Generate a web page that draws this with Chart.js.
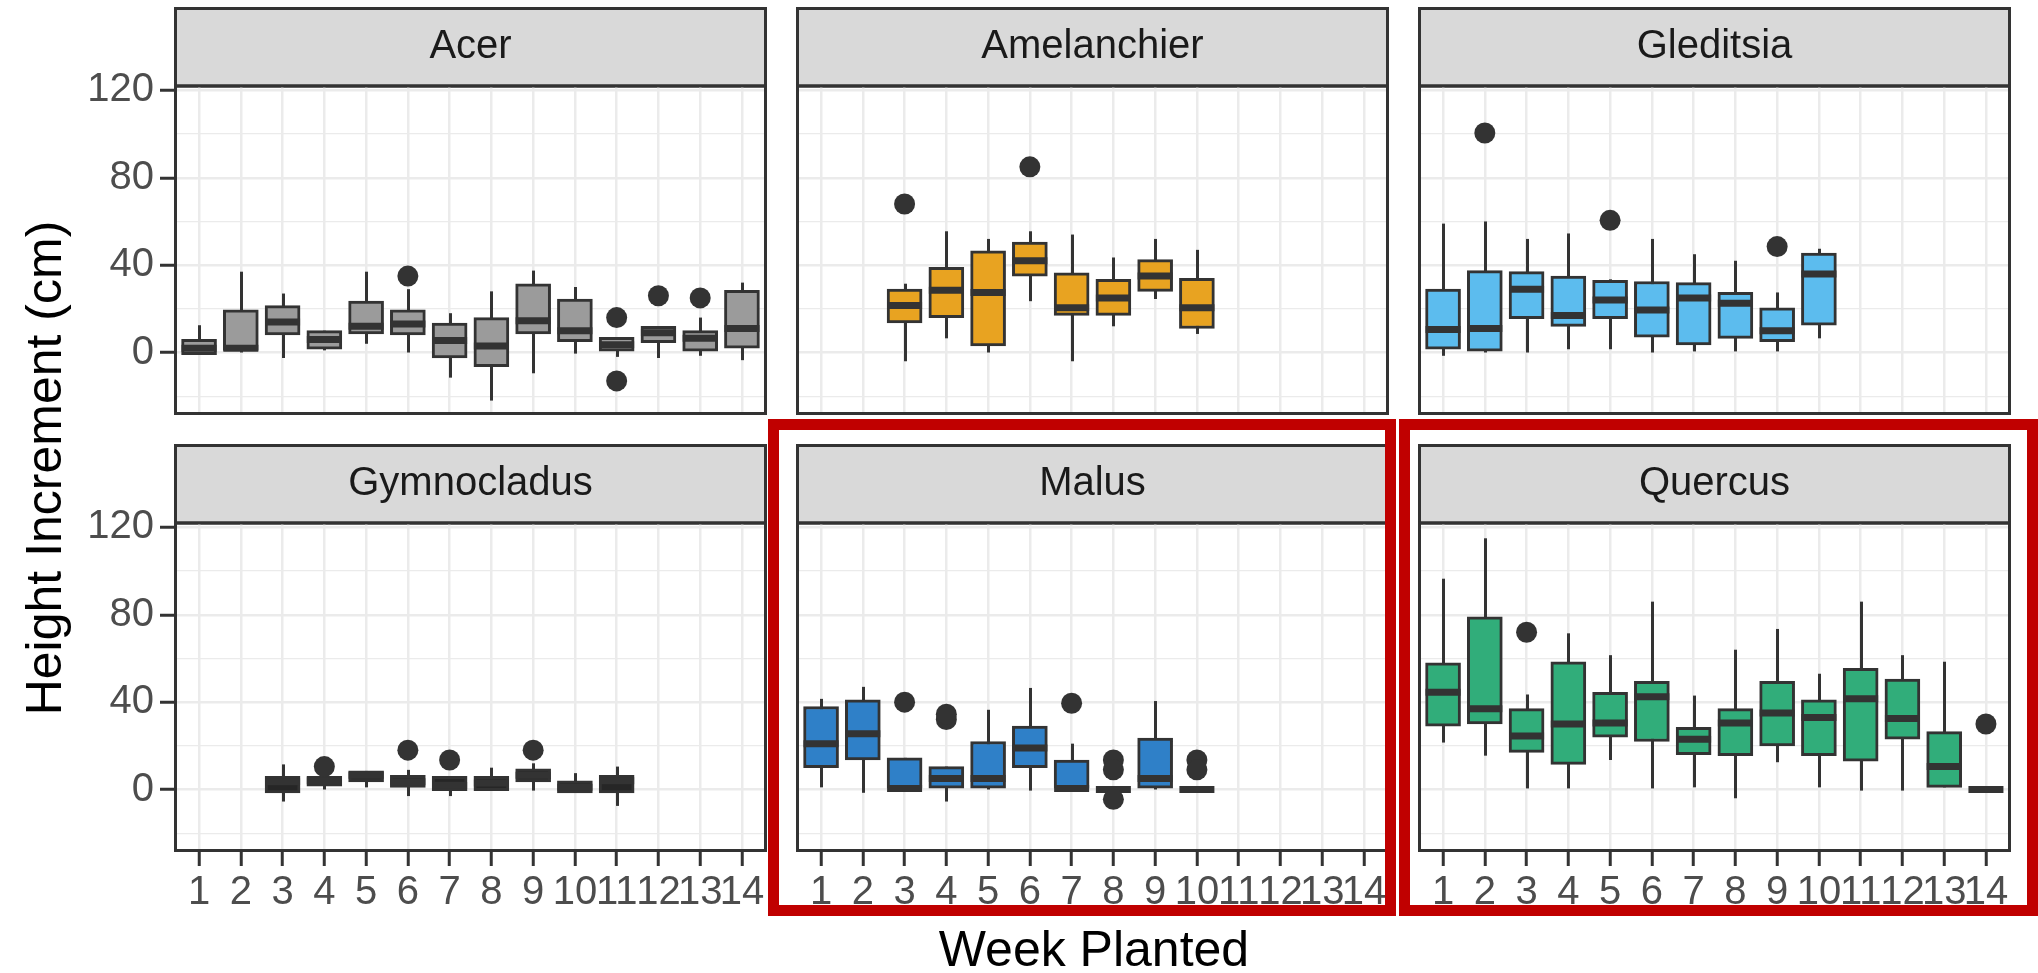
<!DOCTYPE html>
<html>
<head>
<meta charset="utf-8">
<title>Height increment by week planted</title>
<script src="https://cdn.jsdelivr.net/npm/chart.js@4.4.1/dist/chart.umd.min.js"></script>
<style>
  html, body { margin: 0; padding: 0; background: #ffffff; }
  body { position: relative; width: 2038px; height: 973px; overflow: hidden;
         font-family: "Liberation Sans", Arial, Helvetica, sans-serif; }
  canvas.panel { position: absolute; display: block; }
  .frame { position: absolute; box-sizing: border-box; border: 11px solid #C00000; pointer-events: none; }
  #yTitle { position: absolute; left: -306px; top: 438px; width: 700px; height: 60px; line-height: 60px;
            text-align: center; font-size: 50px; color: #000; transform: rotate(-90deg); white-space: nowrap; }
  #xTitle { position: absolute; left: 794px; top: 924px; width: 600px; height: 50px; line-height: 50px;
            text-align: center; font-size: 50px; color: #000; white-space: nowrap; }
</style>
</head>
<body>
<div id="yTitle">Height Increment (cm)</div>
<div id="xTitle">Week Planted</div>

<script>
// ---- data: box statistics (whisker low, Q1, median, Q3, whisker high) per week ----
const weekLabels = ['1','2','3','4','5','6','7','8','9','10','11','12','13','14'];
const speciesNames = ['Acer', 'Amelanchier', 'Gleditsia', 'Gymnocladus', 'Malus', 'Quercus'];

const acerWeeks    = [1, 2, 3, 4, 5, 6, 7, 8, 9, 10, 11, 12, 13, 14];
const acerLow      = [-1, 0, -2.5, 1, 4, 0, -11.5, -22, -9.5, -0.5, -2, -2.5, -1.5, -3.5];
const acerQ1       = [-1, 1, 8, 1.5, 8.5, 8, -2.5, -6.5, 8.5, 5, 0, 4.5, 0, 2];
const acerMedian   = [2, 2, 14, 6, 12, 13, 5.5, 3, 14.5, 10, 3.5, 9, 6.5, 11];
const acerQ3       = [6, 19.5, 21.5, 10, 23.5, 19.5, 13.5, 16, 31.5, 24.5, 7, 12, 10, 28.5];
const acerHigh     = [12.5, 37, 27, 10, 37, 29, 18, 28, 37.5, 30, 7, 12, 16, 32];
const acerOutliers = [[6, 35], [11, 16], [11, -13], [12, 26], [13, 25]];

const amelWeeks    = [3, 4, 5, 6, 7, 8, 9, 10];
const amelLow      = [-4, 6.5, 0, 23.5, -4, 12, 24.5, 8.5];
const amelQ1       = [13.5, 16, 3, 35, 17, 17, 28, 11];
const amelMedian   = [21.5, 28.5, 27.5, 42, 20.5, 25, 35, 20.5];
const amelQ3       = [29, 39, 46.5, 50.5, 36.5, 33.5, 42.5, 34];
const amelHigh     = [31.5, 55.5, 52, 55.5, 54, 43.5, 52, 47];
const amelOutliers = [[3, 68], [6, 85]];

const gledWeeks    = [1, 2, 3, 4, 5, 6, 7, 8, 9, 10];
const gledLow      = [-1.5, 0, 0, 1.5, 1.5, 0, 0.5, 0.5, 0.5, 6.5];
const gledQ1       = [1.5, 0, 15.5, 12, 15.5, 7, 3.5, 6.5, 5, 12.5];
const gledMedian   = [10.5, 11, 29, 17, 24, 19.5, 25, 22.5, 10, 36];
const gledQ3       = [29, 37.5, 37, 35, 33, 32.5, 32, 27.5, 20.5, 45.5];
const gledHigh     = [59, 60, 52, 54.5, 33.5, 52, 45, 42, 27.5, 47.5];
const gledOutliers = [[2, 100.5], [5, 60.5], [9, 48.5]];

const gymnWeeks    = [3, 4, 5, 6, 7, 8, 9, 10, 11];
const gymnLow      = [-5.5, 0, 1, -3, -3, -0.5, -0.5, -1.5, -7.5];
const gymnQ1       = [-1.5, 1.5, 3.5, 1, -0.5, -0.5, 3.5, -1.5, -1.5];
const gymnMedian   = [3.5, 4, 6.5, 3.5, 2, 3, 6.5, 1, 4];
const gymnQ3       = [6, 6, 8.5, 6.5, 6, 6, 9.5, 4, 6.5];
const gymnHigh     = [11.5, 7.5, 8.5, 9, 6, 10, 12, 7.5, 10.5];
const gymnOutliers = [[4, 10.5], [6, 18], [7, 13.5], [9, 18]];

const malusWeeks    = [1, 2, 3, 4, 5, 6, 7, 8, 9, 10];
const malusLow      = [1, -1.5, 0, -5.5, 0, -0.5, 0, 0, 0, 0];
const malusQ1       = [10, 13.5, 0, 0, 0, 10, 0, 0, 0, 0];
const malusMedian   = [21, 25.5, 0.5, 5, 5, 19, 0.5, 0, 5, 0];
const malusQ3       = [38, 41, 14.5, 10.5, 22, 29, 13.5, 0, 23.5, 0];
const malusHigh     = [41.5, 47, 14.5, 10.5, 36.5, 46.5, 21, 0, 40.5, 0];
const malusOutliers = [[3, 40], [4, 32], [4, 34.5], [7, 39.5], [8, 13.5], [8, 9], [8, -4.5], [10, 13.5], [10, 9]];

const quercWeeks    = [1, 2, 3, 4, 5, 6, 7, 8, 9, 10, 11, 12, 13, 14];
const quercLow      = [21.5, 15.5, 0.5, 0.5, 13.5, 0.5, 1, -4, 12.5, 1, -0.5, -0.5, 1, 0];
const quercQ1       = [29, 30, 17, 11.5, 24, 22, 16, 15.5, 20, 15.5, 13, 23, 1, 0];
const quercMedian   = [44.5, 37, 24.5, 30, 30.5, 42.5, 23, 30.5, 35, 33, 41.5, 32.5, 10.5, 0];
const quercQ3       = [58, 79, 37, 58.5, 44.5, 49.5, 28.5, 37, 49.5, 41, 55.5, 50.5, 26.5, 0];
const quercHigh     = [96.5, 115, 43.5, 71.5, 61.5, 86, 43, 64, 73.5, 53, 86, 61.5, 58.5, 0];
const quercOutliers = [[3, 72], [14, 30]];

const yTickValues = [-20, 0, 20, 40, 60, 80, 100, 120];

// ---- styling ----
const fills = ['#9b9b9b', '#E8A321', '#5CBCEE', '#262626', '#2F80C8', '#31AD7A'];
const INK = '#333333';
const GRID = '#EBEBEB';
const FONT = "'Liberation Sans', Arial, Helvetica, sans-serif";

const panels = [
  { weeks: acerWeeks,  low: acerLow,  q1: acerQ1,  med: acerMedian,  q3: acerQ3,  high: acerHigh,  out: acerOutliers },
  { weeks: amelWeeks,  low: amelLow,  q1: amelQ1,  med: amelMedian,  q3: amelQ3,  high: amelHigh,  out: amelOutliers },
  { weeks: gledWeeks,  low: gledLow,  q1: gledQ1,  med: gledMedian,  q3: gledQ3,  high: gledHigh,  out: gledOutliers },
  { weeks: gymnWeeks,  low: gymnLow,  q1: gymnQ1,  med: gymnMedian,  q3: gymnQ3,  high: gymnHigh,  out: gymnOutliers },
  { weeks: malusWeeks, low: malusLow, q1: malusQ1, med: malusMedian, q3: malusQ3, high: malusHigh, out: malusOutliers },
  { weeks: quercWeeks, low: quercLow, q1: quercQ1, med: quercMedian, q3: quercQ3, high: quercHigh, out: quercOutliers }
];

// facet grid geometry (page pixels)
const colLeft = [174, 796, 1418];
const panelW = 593;
const stripTop = [7, 444];
const stripH = 79;
const plotH = 329;
const xAxisH = 64;

// whiskers behind the boxes, medians on top of them, strip and panel frame
const boxPlotParts = {
  id: 'boxPlotParts',
  beforeDraw(chart) {
    const { ctx, chartArea } = chart;
    const t = chart.titleBlock;
    ctx.save();
    ctx.fillStyle = '#D9D9D9';
    ctx.fillRect(chartArea.left, t.top, chartArea.right - chartArea.left, chartArea.top - t.top);
    ctx.strokeStyle = INK;
    ctx.lineWidth = 3;
    ctx.strokeRect(chartArea.left + 1.5, t.top + 1.5, chartArea.right - chartArea.left - 3, chartArea.top - t.top - 1.5);
    ctx.restore();
  },
  beforeDatasetsDraw(chart) {
    const { ctx, scales: { x, y } } = chart;
    chart.data.datasets.forEach(ds => {
      if (!ds.whiskerLow) return;
      ctx.save();
      ctx.strokeStyle = INK;
      ctx.lineWidth = 3;
      ds.data.forEach((d, i) => {
        const px = Math.round(x.getPixelForValue(d.x)) + 0.5;
        ctx.beginPath();
        ctx.moveTo(px, y.getPixelForValue(ds.whiskerLow[i]));
        ctx.lineTo(px, y.getPixelForValue(ds.whiskerHigh[i]));
        ctx.stroke();
      });
      ctx.restore();
    });
  },
  afterDatasetDraw(chart, args) {
    const ds = chart.data.datasets[args.index];
    if (!ds.median) return;
    const { ctx, scales: { y } } = chart;
    ctx.save();
    ctx.strokeStyle = INK;
    ctx.lineWidth = 7;
    ctx.lineCap = 'butt';
    args.meta.data.forEach((bar, i) => {
      const p = bar.getProps(['x', 'width'], true);
      const py = y.getPixelForValue(ds.median[i]);
      ctx.beginPath();
      ctx.moveTo(p.x - p.width / 2, py);
      ctx.lineTo(p.x + p.width / 2, py);
      ctx.stroke();
    });
    ctx.restore();
  },
  afterDraw(chart) {
    const { ctx, chartArea: a } = chart;
    ctx.save();
    ctx.strokeStyle = INK;
    ctx.lineWidth = 3;
    ctx.strokeRect(a.left + 1.5, a.top, a.right - a.left - 3, a.bottom - a.top - 1.5);
    ctx.restore();
  }
};

function makePanel(idx) {
  const p = panels[idx];
  const row = Math.floor(idx / 3), col = idx % 3;
  const leftCol = col === 0, bottomRow = row === 1;
  const yW = leftCol ? colLeft[0] : 0;

  const canvas = document.createElement('canvas');
  canvas.className = 'panel';
  const w = yW + panelW;
  const h = stripH + plotH + (bottomRow ? xAxisH : 0);
  canvas.width = w; canvas.height = h;
  canvas.style.width = w + 'px'; canvas.style.height = h + 'px';
  canvas.style.left = (leftCol ? 0 : colLeft[col]) + 'px';
  canvas.style.top = stripTop[row] + 'px';
  document.body.appendChild(canvas);

  const boxes = p.weeks.map((wk, i) => ({ x: wk, y: [p.q1[i], p.q3[i]] }));
  const dots = p.out.map(o => ({ x: o[0], y: o[1] }));

  new Chart(canvas.getContext('2d'), {
    type: 'bar',
    data: {
      datasets: [
        {
          type: 'scatter',
          data: dots,
          pointRadius: 10.5,
          pointHoverRadius: 10.5,
          pointBackgroundColor: INK,
          pointBorderWidth: 0
        },
        {
          type: 'bar',
          data: boxes,
          backgroundColor: fills[idx],
          borderColor: INK,
          borderWidth: 3,
          borderSkipped: false,
          barThickness: 35,
          grouped: false,
          whiskerLow: p.low,
          whiskerHigh: p.high,
          median: p.med
        }
      ]
    },
    options: {
      responsive: false,
      devicePixelRatio: 1,
      animation: false,
      events: [],
      layout: { padding: 0, autoPadding: false },
      plugins: {
        legend: { display: false },
        tooltip: { enabled: false },
        title: {
          display: true,
          text: speciesNames[idx],
          position: 'top',
          fullSize: false,
          color: '#1A1A1A',
          font: { family: FONT, size: 40, weight: 'normal', lineHeight: 1.2 },
          padding: { top: 15.5, bottom: 15.5 }
        }
      },
      scales: {
        x: {
          type: 'linear',
          offset: false,
          min: 0.4,
          max: 14.6,
          afterBuildTicks: s => { s.ticks = weekLabels.map((_, i) => ({ value: i + 1 })); },
          afterFit: s => { s.height = bottomRow ? xAxisH : 0; s.paddingLeft = 0; s.paddingRight = 0; },
          border: { display: false },
          grid: {
            offset: false,
            color: GRID,
            lineWidth: 2.5,
            drawTicks: bottomRow,
            tickLength: 14,
            tickColor: INK,
            tickWidth: 3
          },
          ticks: {
            display: bottomRow,
            autoSkip: false,
            maxRotation: 0,
            minRotation: 0,
            padding: 3,
            color: '#4D4D4D',
            font: { family: FONT, size: 40 },
            callback: v => weekLabels[v - 1]
          }
        },
        y: {
          type: 'linear',
          min: -28.6,
          max: 122,
          afterBuildTicks: s => { s.ticks = yTickValues.map(v => ({ value: v })); },
          afterFit: s => { s.width = yW; s.paddingTop = 0; s.paddingBottom = 0; },
          border: { display: false },
          grid: {
            color: GRID,
            lineWidth: c => (c.tick && c.tick.value % 40 === 0 ? 2.5 : 1.3),
            drawTicks: leftCol,
            tickLength: 14,
            tickColor: c => (c.tick && c.tick.value % 40 === 0 ? INK : 'rgba(0,0,0,0)'),
            tickWidth: 3
          },
          ticks: {
            display: leftCol,
            autoSkip: false,
            padding: 6,
            color: '#4D4D4D',
            font: { family: FONT, size: 40 },
            callback: v => (v % 40 === 0 ? String(v) : '')
          }
        }
      }
    },
    plugins: [boxPlotParts]
  });
}

panels.forEach((_, i) => makePanel(i));

// highlight frames around the Malus and Quercus facets
[[768, 419, 628, 497], [1399, 419, 639, 497]].forEach(([l, t, w, h]) => {
  const d = document.createElement('div');
  d.className = 'frame';
  d.style.left = l + 'px'; d.style.top = t + 'px';
  d.style.width = w + 'px'; d.style.height = h + 'px';
  document.body.appendChild(d);
});
</script>
</body>
</html>
